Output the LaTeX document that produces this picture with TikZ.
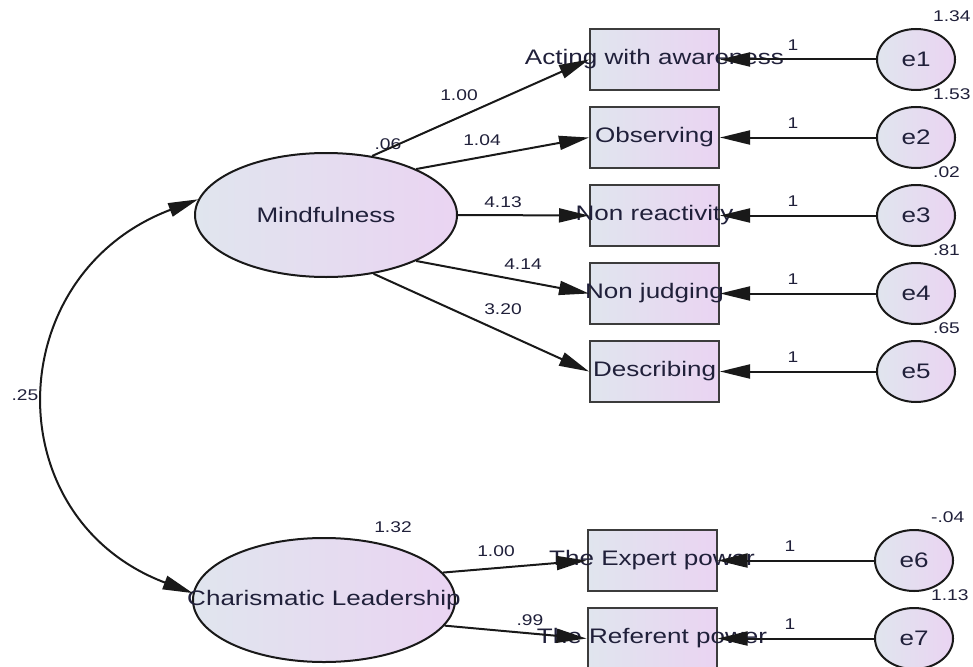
\documentclass[tikz,border=0pt]{standalone}
\usepackage{fontspec}
\setmainfont{Liberation Sans}[FakeStretch=1.24]
\usetikzlibrary{arrows.meta,shapes.geometric}
\definecolor{bleugris}{RGB}{224,229,238}
\definecolor{mauve}{RGB}{234,212,242}
\definecolor{encre}{RGB}{32,32,58}
\definecolor{trait}{RGB}{25,25,25}
\begin{document}
\begin{tikzpicture}[x=1pt,y=-1pt,% une unité = un pixel de l'original
	font=\fontsize{21}{24}\selectfont,text=encre,
	latente/.style={ellipse,draw=trait,line width=2pt,left color=bleugris,right color=mauve,
		minimum width=262pt,minimum height=124pt,inner sep=0pt},
	observee/.style={rectangle,draw=trait!85,line width=2pt,left color=bleugris,right color=mauve,
		minimum width=129pt,minimum height=61pt,inner sep=0pt},
	erreur/.style={ellipse,draw=trait,line width=2pt,left color=bleugris,right color=mauve,
		minimum width=78pt,minimum height=61pt,inner sep=0pt},
	coef/.style={font=\fontsize{15.5}{17}\selectfont,inner sep=0pt},
	fl/.style={line width=2pt,draw=trait,-{Triangle[length=30pt,width=14pt]}}]
	\useasboundingbox (0,0) rectangle (973,666);

	\node[latente,label={center:Mindfulness}] (mind) at (326,215) {};
	\node[latente,label={center:Charismatic Leadership}] (charis) at (324,600) {};
	\node[coef] (vmind) at (388,144) {.06};
	\node[coef] (vcharis) at (393,527) {1.32};

	\foreach \lib/\y/\var/\ang/\c/\cx/\cy [count=\i] in
		{Acting with awareness/59.5/1.34/52/1.00/459/95,
		 Observing/137.5/1.53/27/1.04/482/140,
		 Non reactivity/215.5/.02/0/4.13/503/202,
		 Non judging/293.5/.81/-27/4.14/523/264,
		 Describing/371.5/.65/-51/3.20/503/309}{
		\node[observee,label={center:\lib}] (b\i) at (654.5,\y) {};
		\node[erreur] (e\i) at (916,\y) {e\i};
		\node[coef,anchor=west] (v\i) at (933,\y-43) {\var};
		\node[coef] (u\i) at (793,\y-14) {1};
		\node[coef] (c\i) at (\cx,\cy) {\c};
		\draw[fl] (e\i) -- (b\i);
		\draw[fl] (mind.\ang) -- (b\i.west);
	}

	\foreach \lib/\y/\var/\ang/\c/\cx/\cy [count=\i from 6] in
		{The Expert power/560.5/-.04/13/1.00/496/551,
		 The Referent power/638.5/1.13/-12/.99/530/620}{
		\node[observee,label={center:\lib}] (b\i) at (652,\y) {};
		\node[erreur] (e\i) at (914,\y) {e\i};
		\node[coef,anchor=west] (v\i) at (931,\y-43) {\var};
		\node[coef] (u\i) at (790,\y-14) {1};
		\node[coef] (c\i) at (\cx,\cy) {\c};
		\draw[fl] (e\i) -- (b\i);
		\draw[fl] (charis.\ang) -- (b\i.west);
	}

	% covariance
	\draw[line width=2pt,draw=trait,{Triangle[length=30pt,width=14pt]}-{Triangle[length=30pt,width=14pt]}]
		(mind.173) .. controls +(-198,75) and +(-198,-75) .. (charis.177);
	\node[coef] (cov) at (25,395) {.25};
\end{tikzpicture}
\end{document}
